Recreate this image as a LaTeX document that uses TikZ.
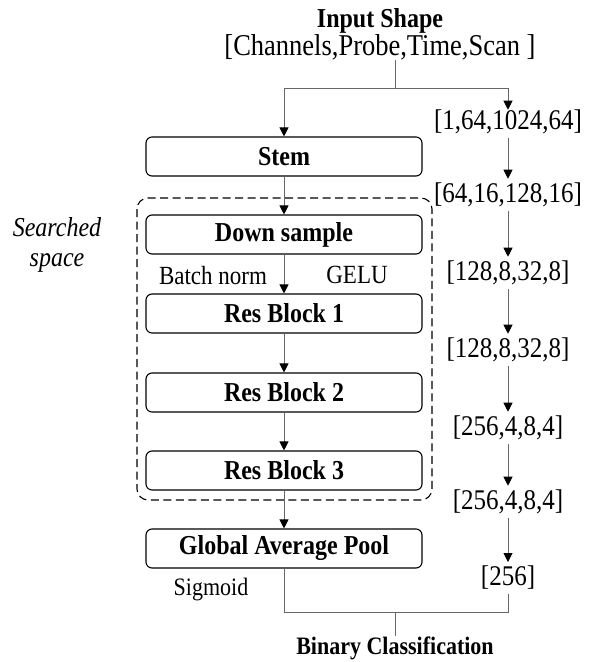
\documentclass[tikz,border=0pt]{standalone}
\usepackage{fontspec}
\usepackage{graphicx}
\setmainfont{Liberation Serif}
\usetikzlibrary{arrows.meta}
\newcommand{\tallt}[1]{\scalebox{1}[1.14]{#1}}
\tikzset{
  blk/.style={draw=black, line width=1.1pt, rounded corners=6pt, minimum width=276pt, minimum height=39pt, inner sep=0pt, font=\fontsize{24}{28}\selectfont\bfseries},
  shp/.style={inner sep=0pt, font=\fontsize{25}{29}\selectfont},
  lbl/.style={inner sep=0pt, font=\fontsize{23}{27}\selectfont},
  ttl/.style={inner sep=0pt, font=\fontsize{24}{28}\selectfont\bfseries},
  conn/.style={draw=black!60, line width=0.9pt},
  arr/.style={conn, -{Triangle[length=9pt,width=9pt,color=black]}},
}
\begin{document}
\begin{tikzpicture}[x=1pt,y=-1pt]
\useasboundingbox (0,0) rectangle (590,662);
% header
\node[ttl] (title) at (380,21) {\tallt{Input Shape}};
\node[shp, font=\fontsize{26.5}{30}\selectfont] (chan) at (380,47) {\tallt{[Channels,Probe,Time,Scan ]}};
\coordinate (split) at (395,88);
\coordinate (join) at (395,612);
% boxes
\node[blk] (stem) at (284,156.5) {\tallt{Stem}};
\node[blk] (down) at (284,234.5) {\tallt{Down sample}};
\node[blk] (rb1) at (284,313.5) {\tallt{Res Block 1}};
\node[blk] (rb2) at (284,392.5) {\tallt{Res Block 2}};
\node[blk] (rb3) at (284,470.5) {\tallt{Res Block 3}};
\node[blk] (gap) at (284,548.5) {\tallt{Global Average Pool}};
% dashed region
\draw[black, line width=1.1pt, dash pattern=on 8pt off 4.5pt, rounded corners=11pt] (137,198) rectangle (432,500);
\node[lbl, align=center, font=\fontsize{24}{30}\selectfont\itshape] (ss) at (57,245) {\tallt{Searched}\\\tallt{space}};
% small labels
\node[lbl] (bn) at (213,276) {\tallt{Batch norm}};
\node[lbl] (gelu) at (357,275) {\tallt{GELU}};
\node[lbl, font=\fontsize{22}{26}\selectfont] (sig) at (211,589) {\tallt{Sigmoid}};
% right column
\node[shp] (s1) at (508,122) {\tallt{[1,64,1024,64]}};
\node[shp] (s2) at (508,195) {\tallt{[64,16,128,16]}};
\node[shp] (s3) at (508,273) {\tallt{[128,8,32,8]}};
\node[shp] (s4) at (508,350) {\tallt{[128,8,32,8]}};
\node[shp] (s5) at (508,428) {\tallt{[256,4,8,4]}};
\node[shp] (s6) at (508,502) {\tallt{[256,4,8,4]}};
\node[shp] (s7) at (508,578) {\tallt{[256]}};
\node[ttl, font=\fontsize{22}{26}\selectfont\bfseries] (bin) at (395,648) {\tallt{Binary Classification}};
% connectors
\draw[conn] (chan.south -| split) -- (split);
\draw[arr] (split) -| (stem.north);
\draw[arr] (split) -| (s1.north);
\draw[arr] (stem.south) -- (down.north);
\draw[arr] (down.south) -- (rb1.north);
\draw[arr] (rb1.south) -- (rb2.north);
\draw[arr] (rb2.south) -- (rb3.north);
\draw[arr] (rb3.south) -- (gap.north);
\draw[arr, shorten <=4pt, shorten >=4pt] (s1.south) -- (s2.north);
\draw[arr, shorten <=4pt, shorten >=4pt] (s2.south) -- (s3.north);
\draw[arr, shorten <=4pt, shorten >=4pt] (s3.south) -- (s4.north);
\draw[arr, shorten <=4pt, shorten >=4pt] (s4.south) -- (s5.north);
\draw[arr, shorten <=4pt, shorten >=4pt] (s5.south) -- (s6.north);
\draw[arr, shorten <=4pt, shorten >=4pt] (s6.south) -- (s7.north);
\draw[conn] (gap.south) |- (join);
\draw[conn, shorten <=4pt] (s7.south) |- (join);
\draw[conn] (join) -- (bin.north);
\end{tikzpicture}
\end{document}
